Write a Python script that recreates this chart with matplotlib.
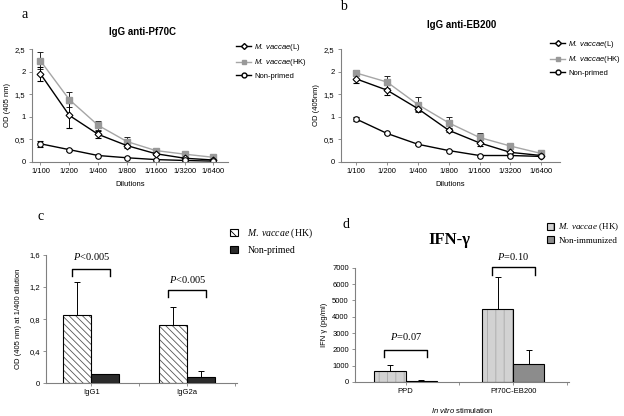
import matplotlib
matplotlib.use("Agg")
import matplotlib.pyplot as plt
from matplotlib.patches import Patch
from matplotlib.lines import Line2D
from matplotlib.ticker import FixedLocator

plt.rcParams['font.family'] = 'Liberation Sans'
plt.rcParams['mathtext.fontset'] = 'custom'
plt.rcParams['mathtext.it'] = 'Liberation Serif:italic'
plt.rcParams['mathtext.rm'] = 'Liberation Serif'
plt.rcParams['mathtext.sf'] = 'Liberation Sans:italic'
plt.rcParams['hatch.linewidth'] = 0.6

# data
dilutions = ["1/100", "1/200", "1/400", "1/800", "1/1600", "1/3200", "1/6400"]

a_live = [1.95, 1.03, 0.61, 0.36, 0.18, 0.08, 0.04]
a_live_err = [0.15, 0.27, 0.08, 0.05, 0.03, 0.02, 0.01]
a_hk = [2.24, 1.38, 0.81, 0.45, 0.25, 0.17, 0.10]
a_hk_err = [0.19, 0.16, 0.10, 0.10, 0.04, 0.03, 0.02]
a_non = [0.40, 0.27, 0.14, 0.09, 0.05, 0.03, 0.015]
a_non_err = [0.07, 0.02, 0.02, 0.01, 0.01, 0.01, 0.01]

b_live = [1.84, 1.59, 1.18, 0.70, 0.42, 0.21, 0.14]
b_live_err = [0.09, 0.11, 0.05, 0.04, 0.07, 0.03, 0.02]
b_hk = [1.97, 1.77, 1.27, 0.865, 0.54, 0.35, 0.185]
b_hk_err = [0.07, 0.13, 0.17, 0.13, 0.10, 0.05, 0.02]
b_non = [0.95, 0.63, 0.39, 0.25, 0.14, 0.14, 0.12]
b_non_err = [0.04, 0.01, 0.01, 0.01, 0.01, 0.01, 0.01]

c_groups = ["IgG1", "IgG2a"]
c_hk = [0.85, 0.72]
c_hk_err = [0.41, 0.23]
c_non = [0.11, 0.08]
c_non_err = [0.01, 0.07]

d_groups = ["PPD", "Pf70C-EB200"]
d_hk = [640, 4470]
d_hk_err = [420, 1980]
d_non = [80, 1110]
d_non_err = [40, 850]

fig = plt.figure(figsize=(6.24, 4.16), dpi=100)


def style_axes(ax, fs=5.5):
  for s in ["top", "right"]:
    ax.spines[s].set_visible(False)
  for s in ["left", "bottom"]:
    ax.spines[s].set_color("#808080")
    ax.spines[s].set_linewidth(0.8)
  ax.tick_params(axis="both", labelsize=fs, length=2.5, width=0.6, color="#808080", pad=2)


def line_panel(ax, live, live_err, hk, hk_err, non, non_err, title, ylabel, xlim, title_xy):
  x = list(range(len(dilutions)))
  ax.errorbar(x, hk, yerr=hk_err, color="#a6a6a6", lw=1.0, marker="s", ms=4,
              mfc="#999999", mec="#999999", ecolor="#222222", elinewidth=0.7, capsize=2, capthick=0.7)
  ax.errorbar(x, live, yerr=live_err, color="black", lw=1.0, marker="D", ms=3.5,
              mfc="white", mec="black", mew=0.8, ecolor="black", elinewidth=0.7, capsize=2, capthick=0.7)
  ax.errorbar(x, non, yerr=non_err, color="black", lw=1.0, marker="o", ms=4,
              mfc="white", mec="black", mew=0.8, ecolor="black", elinewidth=0.7, capsize=2, capthick=0.7)
  ax.set_ylim(0, 2.5)
  ax.set_xlim(*xlim)
  ax.set_yticks([0, 0.5, 1, 1.5, 2, 2.5])
  ax.set_yticklabels(["0", "0,5", "1", "1,5", "2", "2,5"])
  ax.set_xticks(x)
  ax.set_xticklabels(dilutions)
  ax.tick_params(axis="x", length=0, pad=6)
  ax.set_xlabel("Dilutions", fontsize=5.5, labelpad=4)
  ax.set_ylabel(ylabel, fontsize=5.5, labelpad=3)
  ax.text(title_xy[0], title_xy[1], title, transform=ax.transAxes, ha="center", va="center",
          fontsize=7, fontweight="bold")
  style_axes(ax)


def line_legend(ax, anchor):
  handles = [
    Line2D([], [], color="black", lw=1.0, marker="D", ms=3, mfc="white", mec="black"),
    Line2D([], [], color="#a6a6a6", lw=1.0, marker="s", ms=3, mfc="#999999", mec="#999999"),
    Line2D([], [], color="black", lw=1.0, marker="o", ms=3.5, mfc="white", mec="black"),
  ]
  labels = [r"$\mathsf{M.\ vaccae}$(L)", r"$\mathsf{M.\ vaccae}$(HK)", "Non-primed"]
  fig.legend(handles, labels, loc="upper left", bbox_to_anchor=anchor, frameon=False,
             fontsize=5.5, handlelength=2.0, handletextpad=0.4, labelspacing=0.55, borderaxespad=0)


ax_a = fig.add_axes([0.051, 0.611, 0.314, 0.271])
line_panel(ax_a, a_live, a_live_err, a_hk, a_hk_err, a_non, a_non_err,
           "IgG anti-Pf70C", "OD (405 nm)", (-0.3, 6.5), (0.566, 1.15))
line_legend(ax_a, (233 / 624, 1 - 39 / 416))
fig.text(22 / 624, 1 - 14 / 416, "a", fontsize=10, family="Liberation Serif", va="center")

ax_b = fig.add_axes([0.546, 0.611, 0.351, 0.271])
line_panel(ax_b, b_live, b_live_err, b_hk, b_hk_err, b_non, b_non_err,
           "IgG anti-EB200", "OD (405nm)", (-0.5, 6.6), (0.553, 1.212))
line_legend(ax_b, (547 / 624, 1 - 36 / 416))
fig.text(340 / 624, 1 - 6 / 416, "b", fontsize=10, family="Liberation Serif", va="center")


def bar_pair(ax, vals1, err1, vals2, err2, face1, hatch1, hatchcol1, face2, w=0.29):
  x = list(range(len(vals1)))
  x1 = [i - w / 2 for i in x]
  x2 = [i + w / 2 for i in x]
  ax.bar(x1, vals1, width=w, color=face1, edgecolor=hatchcol1, hatch=hatch1, lw=0, zorder=2)
  ax.bar(x1, vals1, width=w, fill=False, edgecolor="black", lw=0.8, zorder=3)
  ax.bar(x2, vals2, width=w, color=face2, edgecolor="black", lw=0.8, zorder=3)
  ax.errorbar(x1, vals1, yerr=[[0] * len(err1), err1], fmt="none", ecolor="black",
              elinewidth=0.7, capsize=2, capthick=0.7, zorder=1)
  ax.errorbar(x2, vals2, yerr=[[0] * len(err2), err2], fmt="none", ecolor="black",
              elinewidth=0.7, capsize=2, capthick=0.7, zorder=1)
  ax.set_xlim(-0.47, 1.52)
  ax.set_xticks(x)
  ax.tick_params(axis="x", length=0, pad=5)
  ax.xaxis.set_minor_locator(FixedLocator([0.5, 1.5]))
  ax.tick_params(axis="x", which="minor", length=2.5, width=0.6, color="#808080")


def bracket(ax, xl, xr, ytop, ybot, text, ytext):
  ax.plot([xl, xl, xr, xr], [ybot, ytop, ytop, ybot], color="black", lw=1.0, clip_on=False)
  ax.text((xl + xr) / 2, ytext, text, ha="center", va="center", fontsize=7.5,
          family="Liberation Serif")


# panel c
ax_c = fig.add_axes([0.074, 0.079, 0.306, 0.308])
bar_pair(ax_c, c_hk, c_hk_err, c_non, c_non_err, "white", "\\\\\\\\\\", "#555555", "#2b2b2b")
ax_c.set_ylim(0, 1.6)
ax_c.set_yticks([0, 0.4, 0.8, 1.2, 1.6])
ax_c.set_yticklabels(["0", "0,4", "0,8", "1,2", "1,6"])
ax_c.set_xticklabels(c_groups)
ax_c.set_ylabel("OD (405 nm) at 1/400 dilution", fontsize=5.5, labelpad=5)
style_axes(ax_c)
bracket(ax_c, -0.2, 0.2, 1.43, 1.34, r"$\mathit{P}$<0.005", 1.58)
bracket(ax_c, 0.8, 1.2, 1.16, 1.07, r"$\mathit{P}$<0.005", 1.30)
fig.text(38 / 624, 1 - 216 / 416, "c", fontsize=10, family="Liberation Serif", va="center")
c_handles = [Patch(facecolor="white", edgecolor="black", hatch="\\\\\\\\", lw=0.8),
             Patch(facecolor="#2b2b2b", edgecolor="black", lw=0.8)]
fig.legend(c_handles, [r"$\mathit{M.\ vaccae}$ (HK)", "Non-primed"], loc="upper left",
           bbox_to_anchor=(226 / 624, 1 - 223 / 416), frameon=False, handlelength=0.8,
           handleheight=0.8, handletextpad=1.0, labelspacing=0.55, borderaxespad=0,
           prop={"family": "Liberation Serif", "size": 7})

# panel d
ax_d = fig.add_axes([0.569, 0.082, 0.343, 0.274])
bar_pair(ax_d, d_hk, d_hk_err, d_non, d_non_err, "#d2d2d2", "||", "#a9a9a9", "#8c8c8c")
ax_d.set_ylim(0, 7000)
ax_d.set_yticks(range(0, 7001, 1000))
ax_d.set_xticklabels(d_groups)
ax_d.set_ylabel("IFN γ (pg/ml)", fontsize=5.5, labelpad=3)
ax_d.set_xlabel(r"$\mathsf{In\ vitro}$ stimulation", fontsize=5.5, labelpad=8)
style_axes(ax_d)
bracket(ax_d, -0.2, 0.2, 1980, 1540, r"$\mathit{P}$=0.07", 2760)
bracket(ax_d, 0.8, 1.2, 7040, 6590, r"$\mathit{P}$=0.10", 7680)
ax_d.text(0.44, 1.245, "IFN-γ", transform=ax_d.transAxes, ha="center", va="center",
          fontsize=12, fontweight="bold", family="Liberation Serif")
fig.text(342 / 624, 1 - 225 / 416, "d", fontsize=10, family="Liberation Serif", va="center")
d_handles = [Patch(facecolor="#d2d2d2", edgecolor="black", hatch="||", lw=0.8),
             Patch(facecolor="#8c8c8c", edgecolor="black", lw=0.8)]
fig.legend(d_handles, [r"$\mathit{M.\ vaccae}$ (HK)", "Non-immunized"], loc="upper left",
           bbox_to_anchor=(543 / 624, 1 - 218 / 416), frameon=False, handlelength=0.8,
           handleheight=0.8, handletextpad=0.5, labelspacing=0.35, borderaxespad=0,
           prop={"family": "Liberation Serif", "size": 6.5})

fig.savefig("out.png", dpi=100)
